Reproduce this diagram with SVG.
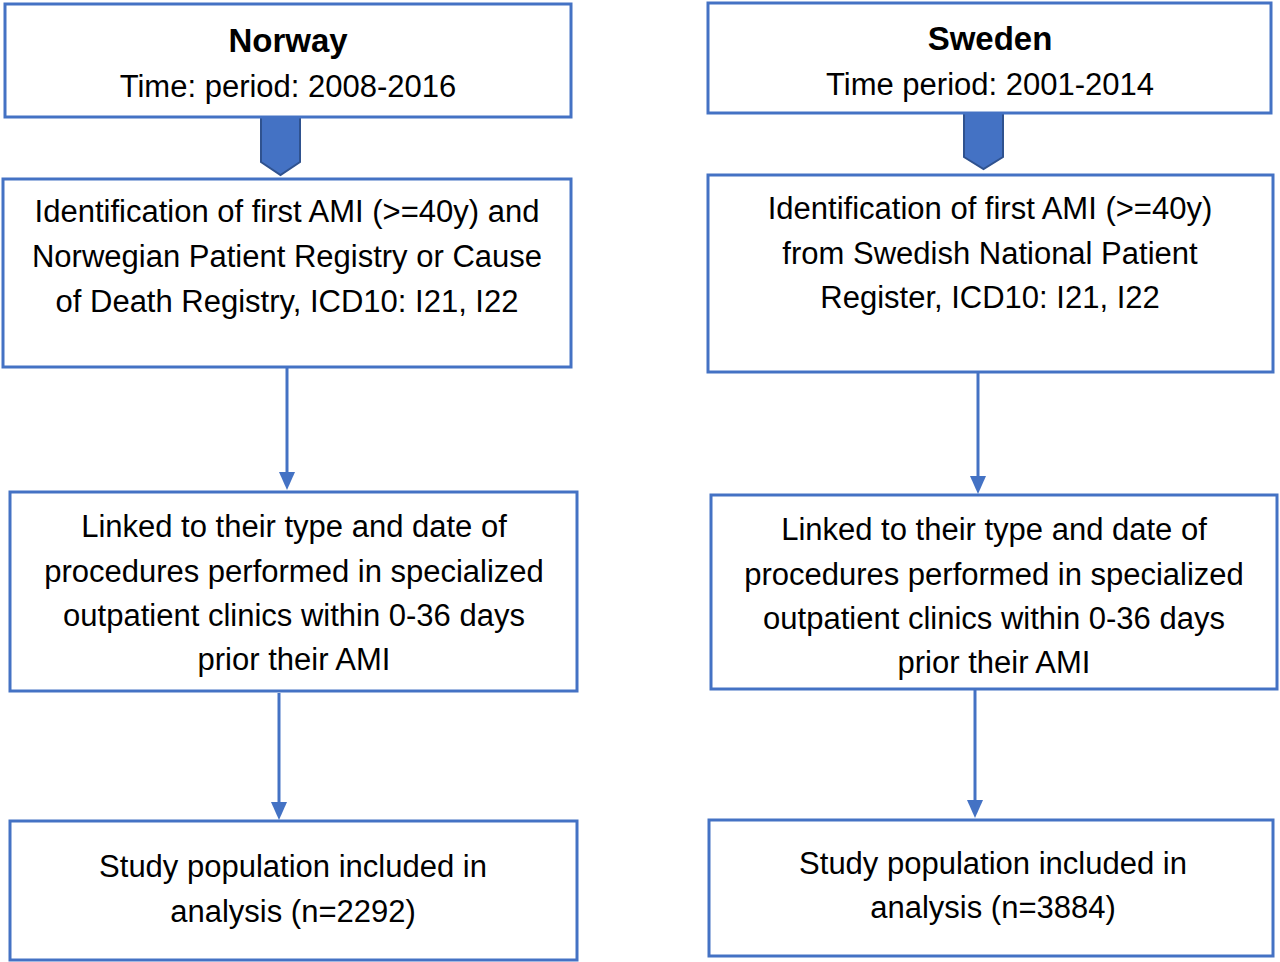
<svg xmlns="http://www.w3.org/2000/svg" width="1280" height="962" viewBox="0 0 1280 962">
<style>
.box{fill:#fff;stroke:#4472C4;stroke-width:3}
.t{font-family:"Liberation Sans",Arial,sans-serif;font-size:31px;fill:#000;text-anchor:middle}
.b{font-weight:bold;font-size:33px}
.c{stroke:#4472C4;stroke-width:3;fill:none}
.pent{fill:#4472C4;stroke:#2F528F;stroke-width:2}
.ah{fill:#4472C4}
</style>
<rect width="1280" height="962" fill="#fff"/>
<g id="connectors">
<polygon class="pent" points="261,117 300,117 300,162 280.5,175 261,162"/>
<polygon class="pent" points="964,113 1003,113 1003,157 983.5,169 964,157"/>
<path class="c" d="M287,367 V474"/><polygon class="ah" points="279,472 295,472 287,490"/>
<path class="c" d="M279,693 V804"/><polygon class="ah" points="271,802 287,802 279,820"/>
<path class="c" d="M978,372 V478"/><polygon class="ah" points="970,476 986,476 978,494"/>
<path class="c" d="M975,690 V802"/><polygon class="ah" points="967,800 983,800 975,818"/>
</g>
<g id="norway-1"><rect class="box" x="5" y="4" width="566" height="113"/>
<text class="t b" x="288" y="52">Norway</text><text class="t" x="288" y="97">Time: period: 2008-2016</text></g>
<g id="norway-2"><rect class="box" x="3" y="179" width="568" height="188"/>
<text class="t" x="287" y="222">Identification of first AMI (&gt;=40y) and</text>
<text class="t" x="287" y="267">Norwegian Patient Registry or Cause</text>
<text class="t" x="287" y="312">of Death Registry, ICD10: I21, I22</text></g>
<g id="norway-3"><rect class="box" x="10" y="492" width="567" height="199"/>
<text class="t" x="294" y="537">Linked to their type and date of</text>
<text class="t" x="294" y="582">procedures performed in specialized</text>
<text class="t" x="294" y="626">outpatient clinics within 0-36 days</text>
<text class="t" x="294" y="670">prior their AMI</text></g>
<g id="norway-4"><rect class="box" x="10" y="821" width="567" height="139"/>
<text class="t" x="293" y="877">Study population included in</text>
<text class="t" x="293" y="922">analysis (n=2292)</text></g>
<g id="sweden-1"><rect class="box" x="708" y="3" width="563" height="110"/>
<text class="t b" x="990" y="50">Sweden</text><text class="t" x="990" y="95">Time period: 2001-2014</text></g>
<g id="sweden-2"><rect class="box" x="708" y="175" width="565" height="197"/>
<text class="t" x="990" y="219">Identification of first AMI (&gt;=40y)</text>
<text class="t" x="990" y="264">from Swedish National Patient</text>
<text class="t" x="990" y="308">Register, ICD10: I21, I22</text></g>
<g id="sweden-3"><rect class="box" x="711" y="495" width="566" height="194"/>
<text class="t" x="994" y="540">Linked to their type and date of</text>
<text class="t" x="994" y="585">procedures performed in specialized</text>
<text class="t" x="994" y="629">outpatient clinics within 0-36 days</text>
<text class="t" x="994" y="673">prior their AMI</text></g>
<g id="sweden-4"><rect class="box" x="709" y="820" width="564" height="136"/>
<text class="t" x="993" y="874">Study population included in</text>
<text class="t" x="993" y="918">analysis (n=3884)</text></g>
</svg>
